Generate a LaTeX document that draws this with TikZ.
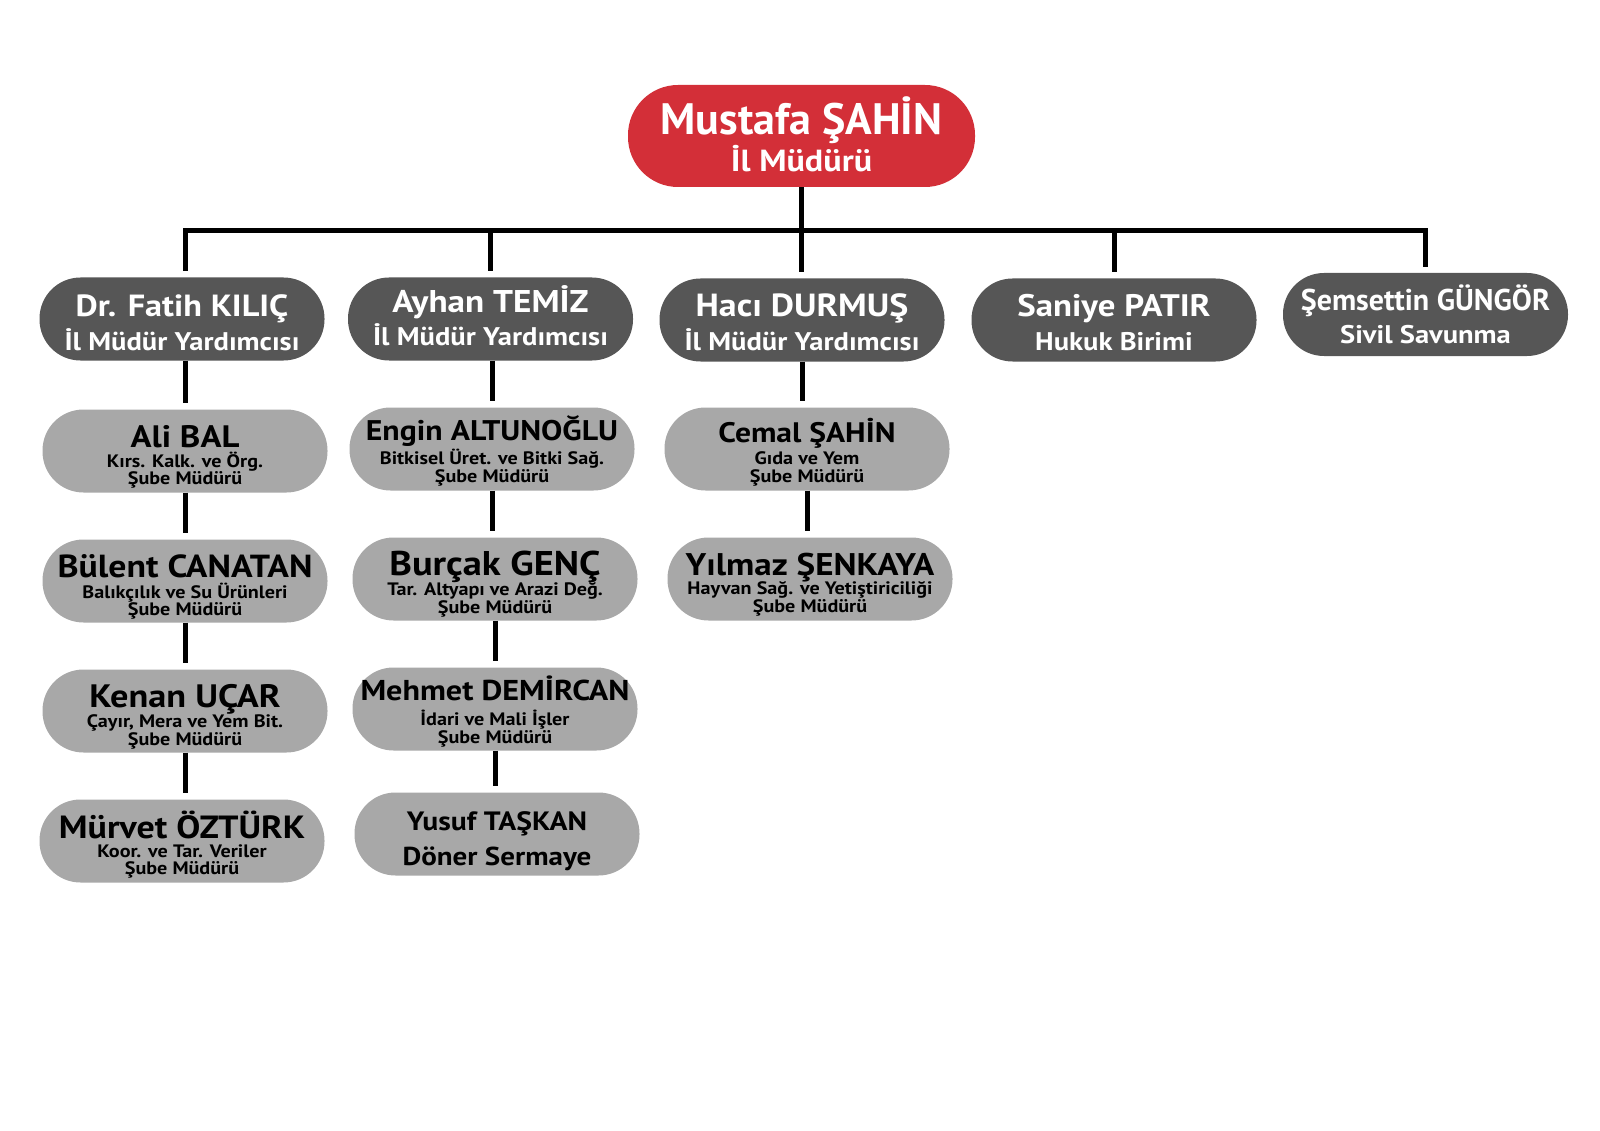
\documentclass[tikz,border=0pt]{standalone}
\usepackage{fontspec}
\setmainfont{PT Sans}
\newfontfamily\fS{PT Sans}[FakeStretch=1.12]
\definecolor{redbox}{HTML}{D32F38}
\definecolor{darkbox}{HTML}{565656}
\definecolor{lightbox}{HTML}{A8A8A8}
\newcommand\Ln[3]{\makebox[0pt][c]{\raisebox{#1pt}[0pt][0pt]{\fS\bfseries\fontsize{#2}{#2}\selectfont #3}}}
\newcommand\LnU[3]{\makebox[0pt][c]{\raisebox{#1pt}[0pt][0pt]{\bfseries\fontsize{#2}{#2}\selectfont #3}}}
\tikzset{
  box/.style={rectangle, rounded corners=41pt, minimum width=285pt, minimum height=83pt, inner sep=0pt, font=\bfseries},
  topbox/.style={box, fill=redbox, text=white, minimum width=347pt, minimum height=102pt, rounded corners=50pt},
  dbox/.style={box, fill=darkbox, text=white},
  lbox/.style={box, fill=lightbox, text=black},
  conn/.style={line width=5pt, shorten >=6pt},
}
\begin{document}
\begin{tikzpicture}[x=1pt,y=-1pt]
\useasboundingbox (0,0) rectangle (1600,1131);
% top
\node[topbox] (top) at (801.5,136) {\LnU{1}{44}{Mustafa ŞAHİN}\Ln{-36}{30.5}{İl Müdürü}};
% level 1
\node[dbox] (fatih) at (182,319) {\Ln{2}{30.6}{Dr. Fatih KILIÇ}\Ln{-32}{25.5}{İl Müdür Yardımcısı}};
\node[dbox] (ayhan) at (490.5,319) {\Ln{6}{31.4}{Ayhan TEMİZ}\Ln{-27}{25.5}{İl Müdür Yardımcısı}};
\node[dbox] (haci) at (802,320) {\Ln{3}{32}{Hacı DURMUŞ}\Ln{-31}{25.5}{İl Müdür Yardımcısı}};
\node[dbox] (saniye) at (1114,320) {\Ln{3}{31.1}{Saniye PATIR}\Ln{-30}{25.5}{Hukuk Birimi}};
\node[dbox] (semsettin) at (1425.5,314.5) {\LnU{3.5}{30}{Şemsettin GÜNGÖR}\Ln{-29.5}{25.5}{Sivil Savunma}};
% left column
\node[lbox] (ali) at (185,451) {\Ln{4}{31}{Ali BAL}\Ln{-16}{18}{Kırs. Kalk. ve Örg.}\Ln{-33}{18}{Şube Müdürü}};
\node[lbox] (bulent) at (185,581) {\Ln{4}{31.9}{Bülent CANATAN}\Ln{-17.5}{18}{Balıkçılık ve Su Ürünleri}\Ln{-34.5}{18}{Şube Müdürü}};
\node[lbox] (kenan) at (185,711) {\Ln{4}{32.4}{Kenan UÇAR}\Ln{-16}{18}{Çayır, Mera ve Yem Bit.}\Ln{-34}{18}{Şube Müdürü}};
\node[lbox] (murvet) at (182,841) {\Ln{3}{32.1}{Mürvet ÖZTÜRK}\Ln{-16}{18}{Koor. ve Tar. Veriler}\Ln{-33}{18}{Şube Müdürü}};
% middle column
\node[lbox] (engin) at (492,449) {\Ln{9}{28.4}{Engin ALTUNOĞLU}\Ln{-15}{18}{Bitkisel Üret. ve Bitki Sağ.}\Ln{-33}{18}{Şube Müdürü}};
\node[lbox] (burcak) at (495,579) {\Ln{4}{34.3}{Burçak GENÇ}\Ln{-16}{18}{Tar. Altyapı ve Arazi Değ.}\Ln{-34}{18}{Şube Müdürü}};
\node[lbox] (mehmet) at (495,709) {\Ln{9}{28.7}{Mehmet DEMİRCAN}\Ln{-16}{18}{İdari ve Mali İşler}\Ln{-34}{18}{Şube Müdürü}};
\node[lbox] (yusuf) at (497,834) {\Ln{4}{26.5}{Yusuf TAŞKAN}\Ln{-31}{25.9}{Döner Sermaye}};
% right column
\node[lbox] (cemal) at (807,449) {\Ln{7}{28.2}{Cemal ŞAHİN}\Ln{-15}{18}{Gıda ve Yem}\Ln{-33}{18}{Şube Müdürü}};
\node[lbox] (yilmaz) at (810,579) {\Ln{4}{31.3}{Yılmaz ŞENKAYA}\Ln{-15}{18}{Hayvan Sağ. ve Yetiştiriciliği}\Ln{-33}{18}{Şube Müdürü}};
% connectors
\coordinate (barL) at (185,230.5);
\coordinate (barR) at (1425,230.5);
\draw[line width=5pt, line cap=rect] (barL) -- (barR);
\draw[conn] (top.south) -- (top.south |- haci.north);
\draw[conn] (barL) -- (barL |- fatih.north);
\draw[conn] (ayhan.north |- barL) -- (ayhan.north);
\draw[conn] (saniye.north |- barL) -- (saniye.north);
\draw[conn] (barR) -- (barR |- semsettin.north);
\draw[conn] (ali.north |- fatih.south) -- (ali.north);
\draw[conn] (ali.south) -- (ali.south |- bulent.north);
\draw[conn] (bulent.south) -- (bulent.south |- kenan.north);
\draw[conn] (kenan.south) -- (kenan.south |- murvet.north);
\draw[conn] (engin.north |- ayhan.south) -- (engin.north);
\draw[conn] (engin.south) -- (engin.south |- burcak.north);
\draw[conn] (burcak.south) -- (burcak.south |- mehmet.north);
\draw[conn] (mehmet.south) -- (mehmet.south |- yusuf.north);
\draw[conn] (haci.south) -- (haci.south |- cemal.north);
\draw[conn] (cemal.south) -- (cemal.south |- yilmaz.north);
\end{tikzpicture}
\end{document}
